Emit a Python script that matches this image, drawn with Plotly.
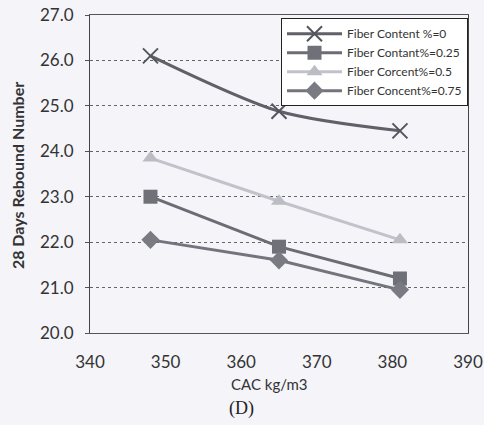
import plotly.graph_objects as go

cac = [348, 365, 381]
fc_0 = [26.1, 24.88, 24.45]
fc_025 = [23.0, 21.9, 21.2]
fc_05 = [23.85, 22.9, 22.05]
fc_075 = [22.05, 21.6, 20.95]

series_names = ["Fiber Content %=0", "Fiber Contant%=0.25", "Fiber Corcent%=0.5", "Fiber Concent%=0.75"]

BG = "#f4f4f9"

fig = go.Figure()
fig.add_trace(go.Scatter(x=cac, y=fc_0, name=series_names[0], mode="lines+markers",
                         line=dict(color="#606068", width=3, shape="spline", smoothing=0.8),
                         marker=dict(symbol="x-thin", size=15, line=dict(color="#55555d", width=2))))
fig.add_trace(go.Scatter(x=cac, y=fc_025, name=series_names[1], mode="lines+markers",
                         line=dict(color="#6c6c74", width=3),
                         marker=dict(symbol="square", size=14, color="#707078")))
fig.add_trace(go.Scatter(x=cac, y=fc_05, name=series_names[2], mode="lines+markers",
                         line=dict(color="#c2c2ca", width=3),
                         marker=dict(symbol="triangle-up", size=14, color="#bcbcc4")))
fig.add_trace(go.Scatter(x=cac, y=fc_075, name=series_names[3], mode="lines+markers",
                         line=dict(color="#74747c", width=3),
                         marker=dict(symbol="diamond", size=14, color="#7a7a82")))

fig.update_layout(
    width=484, height=425,
    margin=dict(l=90, r=16, t=15, b=92, autoexpand=False),
    paper_bgcolor=BG, plot_bgcolor=BG,
    font=dict(family="Lato, Open Sans, sans-serif", color="#333333"),
    showlegend=True,
    legend=dict(x=1, y=0.99, xanchor="right", yanchor="top",
                bgcolor="#ffffff", bordercolor="#222222", borderwidth=1,
                font=dict(size=12, color="#333333"), itemwidth=55,
                tracegroupgap=0),
    xaxis=dict(range=[340, 390], dtick=10, tick0=340, showgrid=False, zeroline=False,
               showline=True, linecolor="#555555", mirror=True, linewidth=1,
               ticks="", ticklabelstandoff=14, automargin=False, ticklabeloverflow="allow",
               tickfont=dict(size=17, color="#333333")),
    yaxis=dict(range=[20, 27], dtick=1, tick0=20, tickformat=".1f",
               showgrid=True, gridcolor="#666666", griddash="dot", gridwidth=1,
               zeroline=False, showline=True, linecolor="#444444", mirror=True, linewidth=1,
               ticks="outside", ticklen=4, tickcolor="#555555", ticklabelstandoff=8,
               automargin=False, ticklabeloverflow="allow",
               tickfont=dict(size=17, color="#333333")),
    annotations=[
        dict(text="<b>28 Days Rebound Number</b>", xref="paper", yref="paper", x=-0.19, y=0.494,
             xanchor="center", yanchor="middle", textangle=-90, showarrow=False,
             font=dict(size=16, color="#333333")),
        dict(text="CAC kg/m3", xref="paper", yref="paper", x=0.476, y=-0.16,
             xanchor="center", yanchor="middle", showarrow=False,
             font=dict(size=15, color="#333333")),
        dict(text="(D)", xref="paper", yref="paper", x=0.402, y=-0.236,
             xanchor="center", yanchor="middle", showarrow=False,
             font=dict(family="Liberation Serif, DejaVu Serif, serif", size=18, color="#222222")),
    ],
)

fig.write_html(
    "out.html",
    config={"displayModeBar": False},
    post_script="document.body.style.margin='0';document.body.style.overflow='hidden';"
                "document.body.style.background='" + BG + "';",
)
